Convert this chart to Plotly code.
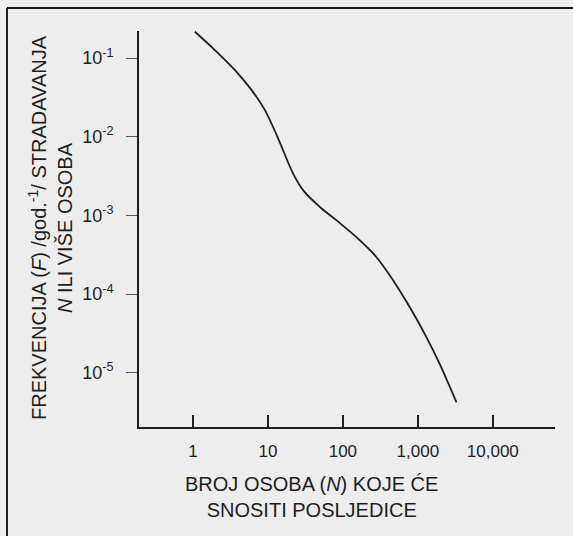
import plotly.graph_objects as go

# F-N curve
N_values = [1.06, 1.96, 3.63, 6.07, 9.12, 13.7, 21.7, 29.6, 49.3, 82.4,
            169, 281, 469, 782, 1306, 1963, 3281]
F_values = [0.216, 0.1265, 0.0703, 0.0391, 0.0218, 0.00948, 0.0034,
            0.00208, 0.00128, 0.000863, 0.000481, 0.000294,
            0.000149, 6.79e-5, 2.82e-5, 1.29e-5, 4.19e-6]

x_tickvals = [1, 10, 100, 1000, 10000]
x_ticktext = ["1", "10", "100", "1,000", "10,000"]
y_tickvals = [1e-1, 1e-2, 1e-3, 1e-4, 1e-5]
y_ticktext = ["10<sup>-1</sup>", "10<sup>-2</sup>", "10<sup>-3</sup>",
              "10<sup>-4</sup>", "10<sup>-5</sup>"]

x_title = "BROJ OSOBA (<i>N</i>) KOJE ĆE<br>SNOSITI POSLJEDICE"
y_title = "FREKVENCIJA (<i>F</i>) /god.<sup>-1</sup>/ STRADAVANJA<br><i>N</i> ILI VIŠE OSOBA"

ink = "#1e1e1e"
font_family = "Liberation Sans, Arial, Helvetica, sans-serif"

fig = go.Figure()
fig.add_trace(go.Scatter(
    x=N_values, y=F_values, mode="lines",
    line=dict(color=ink, width=1.8, shape="spline", smoothing=1.0),
    hoverinfo="skip", showlegend=False,
))

fig.update_layout(
    width=573, height=536,
    margin=dict(l=139, r=18, t=31, b=109),
    paper_bgcolor="#ededed", plot_bgcolor="#ededed",
    font=dict(family=font_family, color=ink),
    showlegend=False,
)

fig.update_xaxes(
    type="log", range=[-0.72, 4.83],
    showgrid=False, zeroline=False,
    showline=True, linecolor=ink, linewidth=1.8,
    ticks="inside", ticklen=12, tickwidth=1.5, tickcolor=ink,
    tickvals=x_tickvals, ticktext=x_ticktext,
    tickfont=dict(size=17, family=font_family, color=ink),
    ticklabelstandoff=8,
)
fig.update_yaxes(
    type="log", range=[-5.69, -0.656],
    showgrid=False, zeroline=False,
    showline=True, linecolor=ink, linewidth=1.8,
    ticks="outside", ticklen=11, tickwidth=1.2, tickcolor="#555555",
    tickvals=y_tickvals, ticktext=y_ticktext,
    tickfont=dict(size=18, family=font_family, color=ink),
    ticklabelstandoff=9,
)

# axis titles as annotations (placed like the reference)
fig.add_annotation(
    text=x_title, xref="paper", yref="paper",
    x=(311 - 139) / 416, y=(427 - 497) / 396,
    xanchor="center", yanchor="middle", showarrow=False,
    font=dict(size=20, family=font_family, color=ink), align="center",
)
fig.add_annotation(
    text=y_title, xref="paper", yref="paper",
    x=(50 - 139) / 416, y=(427 - 228) / 396,
    xanchor="center", yanchor="middle", showarrow=False, textangle=-90,
    font=dict(size=20, family=font_family, color=ink), align="center",
)

# outer frame (top and left border of the scanned figure)
fx0 = (7 - 139) / 416
fx1 = (580 - 139) / 416
fy_top = (427 - 8) / 396
fy_bot = (427 - 545) / 396
fig.add_shape(type="line", xref="paper", yref="paper",
              x0=fx0, x1=fx1, y0=fy_top, y1=fy_top,
              line=dict(color=ink, width=2))
fig.add_shape(type="line", xref="paper", yref="paper",
              x0=fx0, x1=fx0, y0=fy_top, y1=fy_bot,
              line=dict(color=ink, width=2))

fig.write_html(
    "out.html",
    config={"displayModeBar": False},
    post_script="document.body.style.margin='0';document.body.style.background='#ededed';",
)
